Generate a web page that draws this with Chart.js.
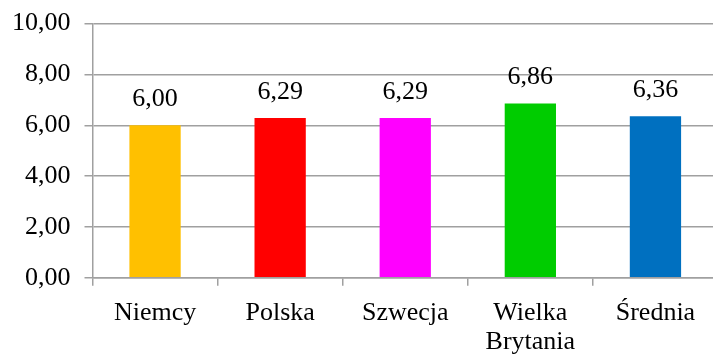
<!DOCTYPE html>
<html>
<head>
<meta charset="utf-8">
<script src="https://cdn.jsdelivr.net/npm/chart.js@4/dist/chart.umd.min.js"></script>
<style>
  html, body { margin: 0; padding: 0; background: #fff; overflow: hidden; }
  #wrap { width: 720px; height: 370px; }
</style>
</head>
<body>
<div id="wrap"><canvas id="c" width="720" height="370"></canvas></div>
<script>
const categories = ['Niemcy', 'Polska', 'Szwecja', 'Wielka Brytania', 'Średnia'];
const values = [6.00, 6.29, 6.29, 6.86, 6.36];
const barColors = ['#FFC000', '#FF0000', '#FF00FF', '#00CC00', '#0070C0'];
const yTicks = [0, 2, 4, 6, 8, 10];

const FONT = '"Liberation Serif", "Times New Roman", serif';
const GRID = '#a0a0a0';
const fmt = v => v.toFixed(2).replace('.', ',');

const valueLabels = {
  id: 'valueLabels',
  afterDatasetsDraw(chart) {
    const ctx = chart.ctx;
    const meta = chart.getDatasetMeta(0);
    ctx.save();
    ctx.font = '26px ' + FONT;
    ctx.fillStyle = '#000';
    ctx.textAlign = 'center';
    ctx.textBaseline = 'alphabetic';
    meta.data.forEach((bar, i) => {
      ctx.fillText(fmt(values[i]), bar.x, bar.y - 19);
    });
    ctx.restore();
  }
};

new Chart(document.getElementById('c'), {
  type: 'bar',
  data: {
    labels: categories.map(c => c.includes(' ') ? c.split(' ') : c),
    datasets: [{
      data: values,
      backgroundColor: barColors,
      borderWidth: 0,
      barPercentage: 0.41,
      categoryPercentage: 1.0
    }]
  },
  options: {
    responsive: false,
    animation: false,
    devicePixelRatio: 1,
    layout: { padding: { left: -2, right: 2, top: 0, bottom: 0 } },
    plugins: { legend: { display: false }, tooltip: { enabled: false } },
    scales: {
      x: {
        grid: { display: true, drawOnChartArea: false, drawTicks: true, tickLength: 8, color: GRID, lineWidth: 1.5, offset: true },
        border: { display: true, color: GRID, width: 1.5 },
        ticks: { color: '#000', font: { family: FONT, size: 26, lineHeight: 1.12 }, padding: 13, maxRotation: 0, autoSkip: false }
      },
      y: {
        min: 0, max: 10,
        afterBuildTicks(axis) { axis.ticks = yTicks.map(v => ({ value: v })); },
        grid: { color: GRID, lineWidth: 1.5, tickLength: 8 },
        border: { display: true, color: GRID, width: 1.5 },
        ticks: { color: '#000', font: { family: FONT, size: 26, lineHeight: 0.74 }, padding: 14, callback: v => fmt(v) }
      }
    }
  },
  plugins: [valueLabels]
});
</script>
</body>
</html>
